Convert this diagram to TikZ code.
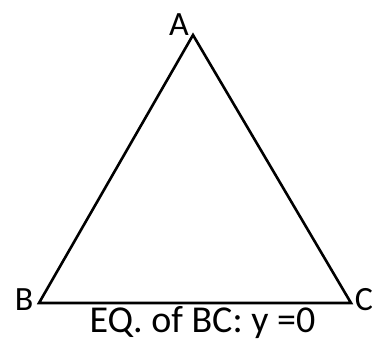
\documentclass[tikz,border=0pt]{standalone}
\usepackage{fontspec}
\setmainfont{Carlito}
\usetikzlibrary{calc}
\tikzset{
    vertex label/.style={
        inner sep=0pt,
        font=\fontsize{34}{38}\selectfont
    },
    side/.style={
        line width=2.6pt,
        black,
        line join=miter
    }
}
\begin{document}
\begin{tikzpicture}[x=1pt,y=1pt]
                \useasboundingbox (0,0) rectangle (372,341);
                \coordinate (A) at (193, 306);
                \coordinate (B) at (39, 38);
                \coordinate (C) at (351, 38);

                \node [vertex label] (LA) at (179, 316) {A};
                \node [vertex label] (LB) at (24, 41) {B};
                \node [vertex label] (LC) at (364, 41) {C};
                \node [vertex label, anchor=base, font=\fontsize{38}{42}\selectfont] (EQ) at (202.5, 8.5) {EQ. of BC: y =0};

                \draw [side] (A) -- (B) -- (C) -- cycle;
\end{tikzpicture}
\end{document}
